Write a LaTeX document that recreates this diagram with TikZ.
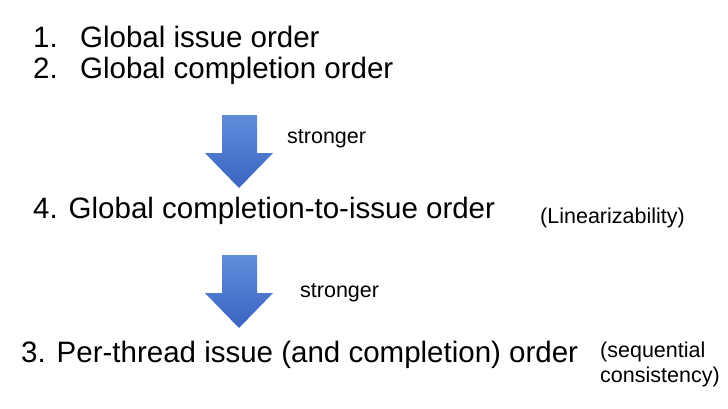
\documentclass[tikz,border=0pt]{standalone}
\usepackage{fontspec}
\setmainfont{Liberation Sans}
\begin{document}
\begin{tikzpicture}[x=1pt,y=1pt,
  maintext/.style={inner sep=0pt, anchor=base west, font=\fontsize{29.5}{33}\selectfont},
  smalltext/.style={inner sep=0pt, anchor=base west, font=\fontsize{21.5}{25}\selectfont},
  bigarrow/.style={top color=arrowtop, bottom color=arrowbot, draw=none}]
\definecolor{arrowtop}{RGB}{96,140,220}
\definecolor{arrowbot}{RGB}{58,100,192}
\useasboundingbox (0,0) rectangle (728,-408);
\fill[white] (0,0) rectangle (728,-408);
\node[maintext] (l1) at (33,-47) {\makebox[47pt][l]{1.}Global issue order};
\node[maintext] (l2) at (33,-78) {\makebox[47pt][l]{2.}Global completion order};
\node[maintext] (l4) at (33,-218) {4. Global completion-to-issue order};
\node[maintext] (l3) at (21,-362) {3. Per-thread issue (and completion) order};
\node[smalltext] (s1) at (287,-143) {stronger};
\node[smalltext] (s2) at (300,-297) {stronger};
\node[smalltext] (lin) at (540,-223) {(Linearizability)};
\node[smalltext] (sc1) at (600,-357) {(sequential};
\node[smalltext] (sc2) at (600,-382) {consistency)};
\path[bigarrow] (222,-115) -- (257,-115) -- (257,-153) -- (273,-153) -- (239,-188) -- (205,-153) -- (222,-153) -- cycle;
\path[bigarrow] (222,-255) -- (257,-255) -- (257,-293) -- (273,-293) -- (239,-328) -- (205,-293) -- (222,-293) -- cycle;
\end{tikzpicture}
\end{document}
